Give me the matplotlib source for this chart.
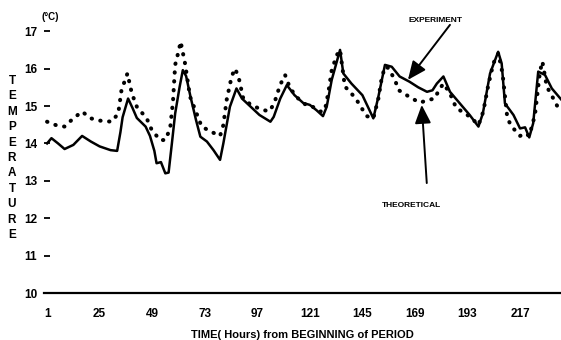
import matplotlib.pyplot as plt

# experiment (solid line)
exp_hours = [1, 3, 6, 9, 13, 17, 21, 25, 30, 33, 34.5, 35.5, 38, 40, 42, 46, 48, 50, 51,
             53, 55, 56.5, 58, 59.5, 61.5, 63, 64.5, 66.5, 69, 71, 74, 77, 80, 81.5, 84.5,
             87.5, 90, 94, 98, 103, 104.5, 107.5, 110.5, 114, 118, 121, 124, 127, 128.7,
             131, 134.8, 136.3, 140, 145, 150, 152.3, 155.3, 158.4, 162, 166.5, 170.5,
             174.5, 177, 179, 182, 185, 189.5, 194, 198, 200, 203.3, 207, 208.6, 210.1,
             214, 217, 219.3, 221.2, 223, 225.3, 228.4, 231.5, 236]
exp_temp = [14.0, 14.14, 14.0, 13.85, 13.96, 14.2, 14.05, 13.92, 13.82, 13.8, 14.3, 14.7,
            15.2, 14.95, 14.68, 14.45, 14.2, 13.8, 13.47, 13.5, 13.2, 13.22, 14.0, 14.8,
            15.5, 15.96, 15.8, 15.25, 14.63, 14.18, 14.05, 13.82, 13.56, 14.0, 14.98, 15.47,
            15.2, 14.98, 14.76, 14.58, 14.71, 15.2, 15.56, 15.29, 15.08, 15.03, 14.89, 14.73,
            14.98, 15.7, 16.5, 15.87, 15.6, 15.29, 14.67, 15.25, 16.1, 16.05, 15.79, 15.65,
            15.5, 15.38, 15.42, 15.6, 15.79, 15.38, 15.07, 14.76, 14.45, 14.8, 15.87, 16.45,
            16.14, 15.07, 14.76, 14.4, 14.43, 14.16, 14.54, 15.92, 15.83, 15.47, 15.16]

# theoretical (dotted line)
th_hours = [1, 5, 9, 13, 17, 21, 25, 30.5, 33.5, 35, 37.7, 39.7, 42, 46.5, 48.8, 52.6, 55,
            57.2, 58.5, 59.5, 61, 62, 64, 66.3, 71.6, 76, 80, 81.5, 83, 85.3, 86.8, 88.4,
            90.6, 93.7, 97.5, 101.3, 102.8, 105, 107.4, 109.7, 112, 115.7, 118.8, 121,
            125.7, 127.9, 129.5, 131, 133.3, 134.8, 137, 139.4, 142.4, 144.7, 147, 150,
            152.3, 153.8, 155.3, 156.7, 159.9, 161.4, 165.2, 169, 171.3, 175, 178, 180, 182,
            185, 186.5, 188, 192, 195, 198, 200.2, 202.5, 204.8, 207.1, 209, 211.2, 213.2,
            217, 219.3, 221.2, 223.8, 226.1, 227.2, 229.2, 232.2, 234.5]
th_temp = [14.58, 14.49, 14.45, 14.67, 14.85, 14.67, 14.61, 14.58, 14.8, 15.43, 15.87, 15.34,
           14.98, 14.67, 14.36, 14.09, 14.09, 14.4, 15.12, 16.1, 16.45, 16.72, 16.14, 15.25,
           14.45, 14.31, 14.2, 14.49, 15.16, 15.79, 16.0, 15.79, 15.2, 15.05, 14.94, 14.87,
           14.87, 15.12, 15.56, 15.83, 15.47, 15.2, 15.05, 15.03, 14.85, 14.89, 15.38, 15.96,
           16.36, 16.5, 15.52, 15.38, 15.16, 14.94, 14.73, 14.67, 15.2, 15.74, 16.05, 16.02,
           15.7, 15.43, 15.29, 15.16, 15.09, 15.16, 15.2, 15.43, 15.6, 15.34, 15.12, 14.94,
           14.8, 14.67, 14.49, 14.85, 15.56, 16.14, 16.41, 15.87, 14.67, 14.45, 14.2, 14.27,
           14.2, 14.76, 15.92, 16.19, 15.52, 15.2, 14.94]

x_ticks = [1, 25, 49, 73, 97, 121, 145, 169, 193, 217]
y_ticks = [10, 11, 12, 13, 14, 15, 16, 17]

plt.rcParams['font.family'] = ['Liberation Sans', 'DejaVu Sans']
plt.rcParams['font.weight'] = 'bold'

fig = plt.figure(figsize=(5.61, 3.40), dpi=100)
ax = fig.add_axes([44 / 561, 47 / 340, 517 / 561, 273 / 340])

ax.plot(exp_hours, exp_temp, color='black', lw=1.8)
ax.plot(th_hours, th_temp, color='black', lw=2.9, linestyle=(0, (0.1, 2.1)),
        dash_capstyle='round')

ax.set_xlim(-0.4, 235.7)
ax.set_ylim(10, 17.3)
ax.set_xticks(x_ticks)
ax.set_yticks(y_ticks)
ax.tick_params(axis='x', length=0, pad=11, labelsize=8.5)
ax.tick_params(axis='y', direction='in', length=4, width=1.3, pad=5, labelsize=8.5)
for s in ['top', 'right', 'left']:
    ax.spines[s].set_visible(False)
ax.spines['bottom'].set_linewidth(1.6)

ax.set_xlabel('TIME( Hours) from BEGINNING of PERIOD', fontsize=8, fontweight='bold',
              labelpad=7)
fig.text(12 / 561, 1 - 158 / 340, '\n'.join('TEMPERATURE'), fontsize=8.5,
         fontweight='bold', ha='center', va='center', linespacing=1.38)
fig.text(50 / 561, 1 - 17 / 340, '(°C)', fontsize=7, fontweight='bold',
         ha='center', va='center')

arrow = dict(arrowstyle='-|>,head_length=0.8,head_width=0.35', color='black', lw=1.4,
             mutation_scale=14, shrinkA=0, shrinkB=0)
ax.text(178.2, 17.28, 'EXPERIMENT', fontsize=6, fontweight='bold', ha='center', va='center')
ax.annotate('', xy=(165.8, 15.7), xytext=(185, 17.17), arrowprops=arrow)
ax.text(167.5, 12.35, 'THEORETICAL', fontsize=6, fontweight='bold', ha='center', va='center')
ax.annotate('', xy=(172.1, 15.03), xytext=(174.4, 12.94), arrowprops=arrow)

fig.savefig('out.png', dpi=100)
